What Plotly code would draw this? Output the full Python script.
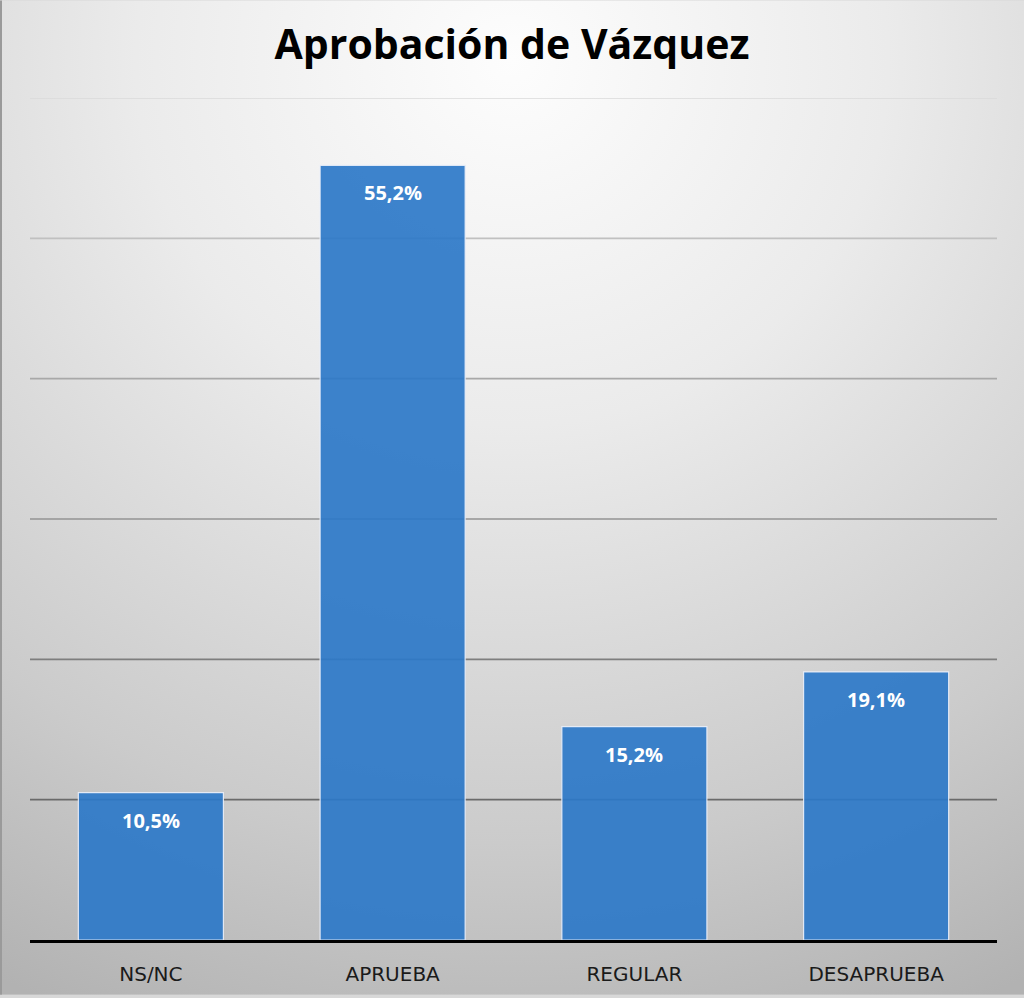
import base64
import plotly.graph_objects as go

categories = ["NS/NC", "APRUEBA", "REGULAR", "DESAPRUEBA"]
values = [10.5, 55.2, 15.2, 19.1]
title_text = "Aprobación de Vázquez"
grid_values = [10, 20, 30, 40, 50, 60]
grid_colors = ["#6a6a6a", "#7e7e7e", "#939393", "#a8a8a8", "#c0c0c0", "#dadada"]

W, H = 1024, 998
ML, MR, MT, MB = 30, 27, 98, 55
PW, PH = W - ML - MR, H - MT - MB

svg = f'''<svg xmlns="http://www.w3.org/2000/svg" width="{W}" height="{H}" viewBox="0 0 {W} {H}">
<defs><radialGradient id="g" cx="50%" cy="6%" r="105%" fx="50%" fy="6%">
<stop offset="0" stop-color="#fdfdfd"/>
<stop offset="0.35" stop-color="#ebebeb"/>
<stop offset="0.75" stop-color="#cbcbcb"/>
<stop offset="1" stop-color="#b2b2b2"/>
</radialGradient></defs>
<rect width="{W}" height="{H}" fill="url(#g)"/>
<rect x="0" y="0" width="2" height="{H}" fill="#9a9a9a"/>
</svg>'''
src = "data:image/svg+xml;base64," + base64.b64encode(svg.encode()).decode()

labels = [f"{v:.1f}".replace(".", ",") + "%" for v in values]

fig = go.Figure(go.Bar(
    x=categories, y=values,
    marker=dict(color="rgba(45,120,200,0.92)", line=dict(color="rgba(235,240,250,0.9)", width=1.2)),
    hoverinfo="skip",
))

for gv, gc in zip(grid_values, grid_colors):
    fig.add_shape(type="line", xref="paper", yref="y", x0=0, x1=1, y0=gv, y1=gv,
                  line=dict(color=gc, width=1.6), layer="below")

for c, v, t in zip(categories, values, labels):
    fig.add_annotation(x=c, y=v, text=f"<b>{t}</b>", showarrow=False, yanchor="top", yshift=-12,
                       font=dict(family="Open Sans", size=20, color="white"))

fig.add_layout_image(dict(source=src, xref="paper", yref="paper",
                          x=-ML / PW, y=1 + MT / PH, sizex=W / PW, sizey=H / PH,
                          xanchor="left", yanchor="top", sizing="stretch", layer="below"))

fig.update_layout(
    width=W, height=H,
    margin=dict(l=ML, r=MR, t=MT, b=MB),
    paper_bgcolor="#d8d8d8", plot_bgcolor="rgba(0,0,0,0)",
    title=dict(text=f"<b>{title_text}</b>", x=0.5, xanchor="center", y=0.955, yanchor="middle",
               font=dict(family="Open Sans", size=41, color="black")),
    bargap=0.4, showlegend=False,
    xaxis=dict(showline=True, linecolor="black", linewidth=3, ticks="", ticklabelstandoff=14,
               tickfont=dict(family="DejaVu Sans", size=20, color="#1a1a1a")),
    yaxis=dict(range=[0, 60], showticklabels=False, showgrid=False, zeroline=False),
)

fig.write_html("out.html")
